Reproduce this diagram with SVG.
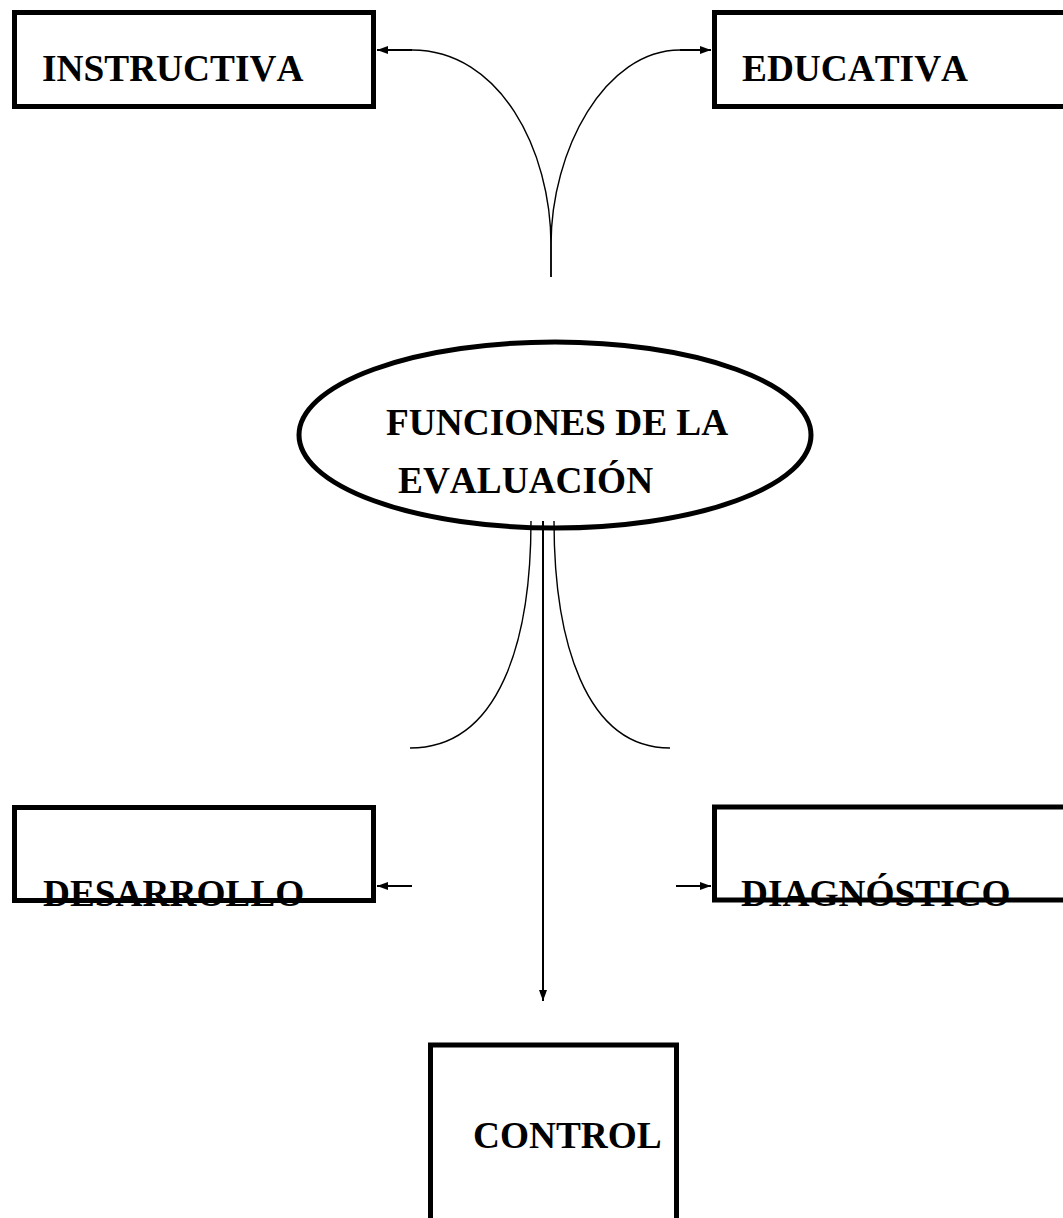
<svg xmlns="http://www.w3.org/2000/svg" width="1063" height="1218" viewBox="0 0 1063 1218">
<style>
.box{fill:none;stroke:#000;stroke-width:5}
.lbl{font-family:"Liberation Serif","Times New Roman",serif;font-weight:bold;font-size:37.33px;fill:#000;font-kerning:none}
.con{fill:none;stroke:#000;stroke-width:1.4}
.arr{fill:none;stroke:#000;stroke-width:2}
</style>
<defs>
<marker id="ah" markerUnits="userSpaceOnUse" markerWidth="12" markerHeight="9" refX="11" refY="4.5" orient="auto">
<path d="M0,0.5 L11,4.5 L0,8.5 z" fill="#000"/>
</marker>
</defs>
<rect width="1063" height="1218" fill="#fff"/>
<g id="connectors">
<path class="con" d="M551,277 L551,245 C551,150 500,50 412,50"/>
<path class="arr" d="M412,50 L377,50" marker-end="url(#ah)"/>
<path class="con" d="M551,277 L551,245 C551,150 605,50 680,50"/>
<path class="arr" d="M680,50 L711,50" marker-end="url(#ah)"/>
<path class="con" d="M531,521 C531,640 500,748 410,748"/>
<path class="con" d="M554,521 C554,640 585,748 670,748"/>
<path class="arr" d="M412,886 L377,886" marker-end="url(#ah)"/>
<path class="arr" d="M676,886 L711,886" marker-end="url(#ah)"/>
<path class="arr" d="M543,521 L543,1001" marker-end="url(#ah)"/>
</g>
<g id="instructiva">
<rect class="box" x="14.5" y="12.5" width="359" height="94"/>
<text class="lbl" x="42" y="81">INSTRUCTIVA</text>
</g>
<g id="educativa">
<rect class="box" x="714.5" y="12.5" width="400" height="94"/>
<text class="lbl" x="742" y="81">EDUCATIVA</text>
</g>
<g id="funciones">
<ellipse cx="555" cy="435" rx="256" ry="93" fill="none" stroke="#000" stroke-width="5"/>
<text class="lbl" x="386" y="435">FUNCIONES DE LA</text>
<text class="lbl" x="398" y="493">EVALUACIÓN</text>
</g>
<g id="desarrollo">
<text class="lbl" x="43" y="906">DESARROLLO</text>
<rect class="box" x="14.5" y="807.5" width="359" height="93"/>
</g>
<g id="diagnostico">
<text class="lbl" x="741" y="906">DIAGNÓSTICO</text>
<rect class="box" x="714.5" y="807" width="400" height="93"/>
</g>
<g id="control">
<rect class="box" x="430.5" y="1045" width="246" height="200"/>
<text class="lbl" x="473" y="1148">CONTROL</text>
</g>
</svg>
